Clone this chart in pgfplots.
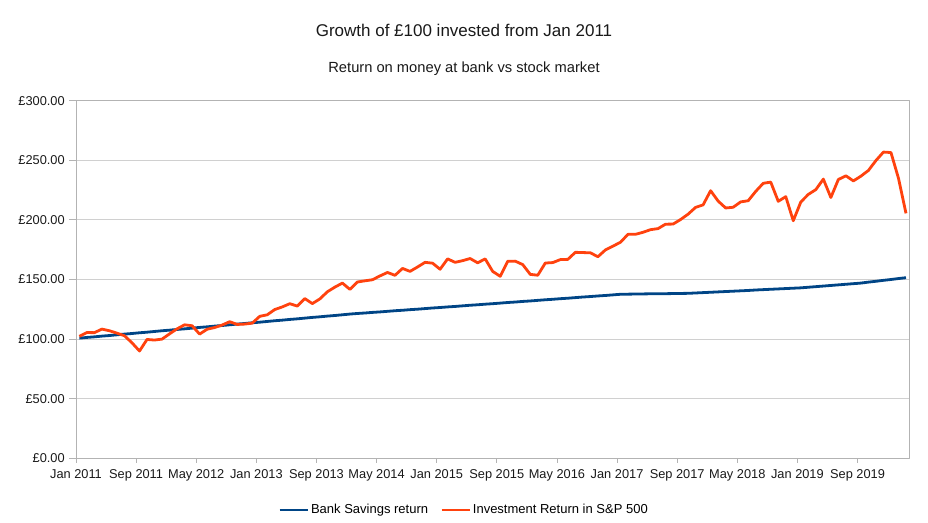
\documentclass[border=0pt]{standalone}
\usepackage{fontspec}
\setmainfont{Liberation Sans}
\usepackage{pgfplots}
\usepackage{pgfplotstable}
\pgfplotsset{compat=1.18}
\definecolor{bankblue}{HTML}{004586}
\definecolor{sporange}{HTML}{FF420E}
\definecolor{gridgray}{HTML}{D0D0D0}
\definecolor{axgray}{HTML}{B3B3B3}

\pgfplotstableread{
bank sp
100.8 102.3
101.4 105.5
101.9 105.4
102.5 108.4
103.0 107.0
103.6 105.0
104.2 102.8
104.7 96.9
105.3 90.0
105.8 99.7
106.4 99.2
107.0 100.0
107.5 104.4
108.1 108.6
108.6 112.0
109.2 111.2
109.8 104.2
110.3 108.3
110.9 109.7
111.4 111.8
112.0 114.6
112.6 112.3
113.1 112.6
113.7 113.4
114.2 119.1
114.8 120.4
115.4 124.8
115.9 127.0
116.5 129.7
117.0 127.7
117.6 134.0
118.2 129.8
118.7 133.7
119.3 139.7
119.8 143.6
120.4 147.0
121.0 141.7
121.5 147.9
121.9 148.9
122.4 149.8
122.8 153.0
123.3 155.9
123.8 153.5
124.2 159.3
124.7 156.8
125.1 160.5
125.6 164.4
126.1 163.7
126.5 158.6
127.0 167.3
127.4 164.4
127.9 165.8
128.4 167.6
128.8 164.0
129.3 167.3
129.7 156.8
130.2 152.7
130.7 165.3
131.1 165.4
131.6 162.5
132.0 154.3
132.5 153.6
133.0 163.8
133.4 164.2
133.9 166.7
134.3 166.9
134.8 172.8
135.3 172.6
135.7 172.4
136.2 169.1
136.6 174.8
137.1 178.0
137.6 181.2
137.7 187.9
137.8 187.9
137.9 189.6
138.0 191.8
138.0 192.7
138.1 196.4
138.2 196.5
138.3 200.3
138.4 204.8
138.7 210.5
139.0 212.6
139.3 224.5
139.6 215.8
139.9 210.0
140.2 210.6
140.5 215.1
140.8 216.1
141.2 223.9
141.5 230.7
141.8 231.7
142.1 215.6
142.4 219.5
142.7 199.3
143.0 215.0
143.5 221.4
144.0 225.4
144.5 234.2
145.0 218.8
145.5 233.9
146.0 237.0
146.5 232.7
147.0 236.7
147.8 241.5
148.5 249.8
149.3 256.9
150.0 256.5
150.8 234.9
151.5 205.5
}\growthdata

\begin{document}
\begin{tikzpicture}
\useasboundingbox (0pt,0pt) rectangle (928pt,522pt);
\node[font=\fontsize{17}{20}\selectfont, color=black!90] at (464pt,492pt) {Growth of £100 invested from Jan 2011};
\node[font=\fontsize{14.7}{17}\selectfont, color=black!90] at (464pt,453pt) {Return on money at bank vs stock market};
\begin{axis}[
  at={(76pt,63.7pt)}, anchor=south west,
  scale only axis, width=833pt, height=357.6pt,
  xmin=0, xmax=110.85, ymin=0, ymax=300,
  xtick={0,8,...,104},
  xticklabels={Jan 2011,Sep 2011,May 2012,Jan 2013,Sep 2013,May 2014,Jan 2015,Sep 2015,May 2016,Jan 2017,Sep 2017,May 2018,Jan 2019,Sep 2019},
  ytick={0,50,...,300},
  yticklabel={£\pgfmathprintnumber[fixed,fixed zerofill,precision=2]{\tick}},
  /pgf/number format/assume math mode=true,
  ymajorgrids, major grid style={gridgray, line width=0.8pt},
  axis line style={axgray, line width=0.8pt},
  tick align=outside,
  xtick pos=bottom, ytick pos=left,
  tick style={axgray, line width=0.8pt},
  xtick style={/pgfplots/major tick length=4.5pt},
  ytick style={/pgfplots/major tick length=7pt},
  ticklabel style={font=\fontsize{12.8}{15}\selectfont, color=black!90},
  xticklabel style={yshift=-3.5pt},
  yticklabel style={xshift=-3.5pt},
  legend style={at={(0.4658,-0.1446)}, anchor=center, draw=none, fill=none,
    font=\fontsize{13}{15}\selectfont, legend columns=2,
    /tikz/every even column/.append style={column sep=10pt}},
  legend image code/.code={\draw[#1] (0pt,0pt) -- (28pt,0pt);},
  line join=round,
]
\addplot[bankblue, line width=2.8pt] table[x expr=\coordindex+0.45, y=bank]{\growthdata};
\addlegendentry{Bank Savings return}
\addplot[sporange, line width=2.8pt] table[x expr=\coordindex+0.45, y=sp]{\growthdata};
\addlegendentry{Investment Return in S\&P 500}
\end{axis}
\end{tikzpicture}
\end{document}
